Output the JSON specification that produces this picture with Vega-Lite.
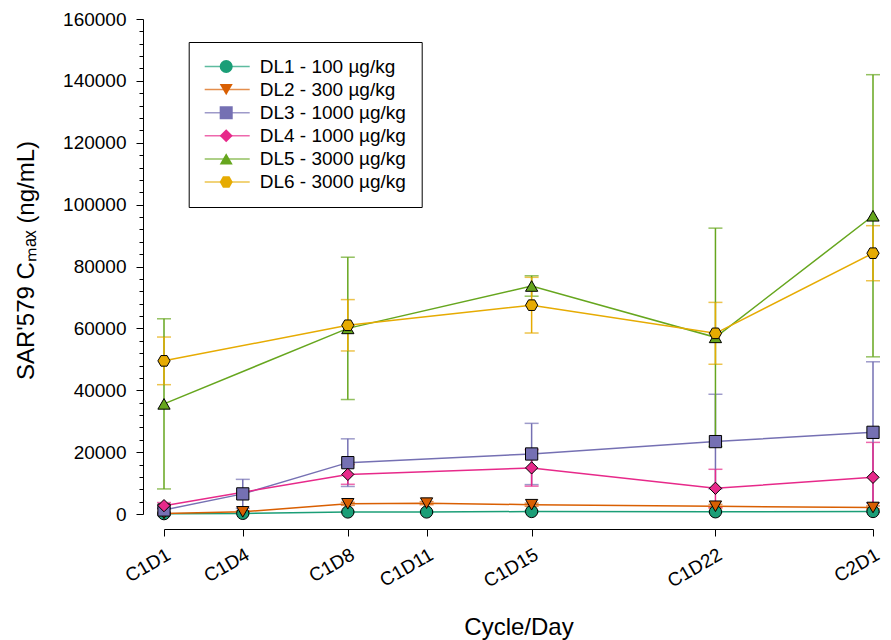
{
  "$schema": "https://vega.github.io/schema/vega-lite/v6.json",
  "width": 709,
  "height": 495,
  "autosize": {"type": "none"},
  "padding": {"left": 164, "top": 19, "right": 18, "bottom": 126},
  "background": "white",
  "config": {
    "view": {"stroke": null},
    "font": "Liberation Sans",
    "axis": {
      "grid": false,
      "domainColor": "black",
      "domainWidth": 1,
      "tickColor": "black",
      "tickWidth": 1,
      "labelColor": "black",
      "titleColor": "black",
      "labelFont": "Liberation Sans",
      "titleFont": "Liberation Sans",
      "titleFontWeight": "normal"
    }
  },
  "data": {
    "values": [
      {"g": "DL1 - 100 µg/kg", "d": 1, "m": 100, "e": 50},
      {"g": "DL1 - 100 µg/kg", "d": 4, "m": 200, "e": 100},
      {"g": "DL1 - 100 µg/kg", "d": 8, "m": 650, "e": 200},
      {"g": "DL1 - 100 µg/kg", "d": 11, "m": 650, "e": 200},
      {"g": "DL1 - 100 µg/kg", "d": 15, "m": 800, "e": 250},
      {"g": "DL1 - 100 µg/kg", "d": 22, "m": 700, "e": 200},
      {"g": "DL1 - 100 µg/kg", "d": 28, "m": 800, "e": 200},
      {"g": "DL2 - 300 µg/kg", "d": 1, "m": 200, "e": 100},
      {"g": "DL2 - 300 µg/kg", "d": 4, "m": 700, "e": 300},
      {"g": "DL2 - 300 µg/kg", "d": 8, "m": 3300, "e": 500},
      {"g": "DL2 - 300 µg/kg", "d": 11, "m": 3500, "e": 500},
      {"g": "DL2 - 300 µg/kg", "d": 15, "m": 3000, "e": 500},
      {"g": "DL2 - 300 µg/kg", "d": 22, "m": 2500, "e": 600},
      {"g": "DL2 - 300 µg/kg", "d": 28, "m": 2100, "e": 500},
      {"g": "DL3 - 1000 µg/kg", "d": 1, "m": 1300, "e": 800},
      {"g": "DL3 - 1000 µg/kg", "d": 4, "m": 6500, "e": 4700},
      {"g": "DL3 - 1000 µg/kg", "d": 8, "m": 16600, "e": 7700},
      {"g": "DL3 - 1000 µg/kg", "d": 15, "m": 19400, "e": 9900},
      {"g": "DL3 - 1000 µg/kg", "d": 22, "m": 23400, "e": 15300},
      {"g": "DL3 - 1000 µg/kg", "d": 28, "m": 26400, "e": 22800},
      {"g": "DL4 - 1000 µg/kg", "d": 1, "m": 2700, "e": 1000},
      {"g": "DL4 - 1000 µg/kg", "d": 8, "m": 12800, "e": 3200},
      {"g": "DL4 - 1000 µg/kg", "d": 15, "m": 14900, "e": 5900},
      {"g": "DL4 - 1000 µg/kg", "d": 22, "m": 8300, "e": 6150},
      {"g": "DL4 - 1000 µg/kg", "d": 28, "m": 11850, "e": 11300},
      {"g": "DL5 - 3000 µg/kg", "d": 1, "m": 35600, "e": 27500},
      {"g": "DL5 - 3000 µg/kg", "d": 8, "m": 60000, "e": 23000},
      {"g": "DL5 - 3000 µg/kg", "d": 15, "m": 73700, "e": 3300},
      {"g": "DL5 - 3000 µg/kg", "d": 22, "m": 57100, "e": 35300},
      {"g": "DL5 - 3000 µg/kg", "d": 28, "m": 96400, "e": 45600},
      {"g": "DL6 - 3000 µg/kg", "d": 1, "m": 49500, "e": 7700},
      {"g": "DL6 - 3000 µg/kg", "d": 8, "m": 61000, "e": 8300},
      {"g": "DL6 - 3000 µg/kg", "d": 15, "m": 67500, "e": 9000},
      {"g": "DL6 - 3000 µg/kg", "d": 22, "m": 58400, "e": 10000},
      {"g": "DL6 - 3000 µg/kg", "d": 28, "m": 84300, "e": 8900}
    ]
  },
  "encoding": {
    "x": {
      "field": "d",
      "type": "quantitative",
      "scale": {"domain": [1, 28], "nice": false, "zero": false},
      "axis": {
        "title": "Cycle/Day",
        "values": [1, 4, 8, 11, 15, 22, 28],
        "labelExpr": "datum.value == 1 ? 'C1D1' : datum.value == 4 ? 'C1D4' : datum.value == 8 ? 'C1D8' : datum.value == 11 ? 'C1D11' : datum.value == 15 ? 'C1D15' : datum.value == 22 ? 'C1D22' : 'C2D1'",
        "labelAngle": -30,
        "labelAlign": "right",
        "labelBaseline": "top",
        "labelOverlap": false,
        "labelFontSize": 19,
        "labelPadding": 9,
        "offset": 15,
        "tickSize": 7,
        "titleFontSize": 24,
        "titleY": 98,
        "titleBaseline": "middle"
      }
    },
    "y": {
      "field": "m",
      "type": "quantitative",
      "scale": {"domain": [0, 160000], "nice": false},
      "axis": {
        "title": "SAR'579 Cₘₐₓ (ng/mL)",
        "values": [0, 4000, 8000, 12000, 16000, 20000, 24000, 28000, 32000, 36000, 40000, 44000, 48000, 52000, 56000, 60000, 64000, 68000, 72000, 76000, 80000, 84000, 88000, 92000, 96000, 100000, 104000, 108000, 112000, 116000, 120000, 124000, 128000, 132000, 136000, 140000, 144000, 148000, 152000, 156000, 160000],
        "format": "d",
        "labelExpr": "datum.value % 20000 === 0 ? datum.label : ''",
        "tickSize": {"condition": {"test": "datum.value % 20000 === 0", "value": 7}, "value": 4},
        "labelPadding": 10,
        "labelFontSize": 19,
        "labelOverlap": false,
        "offset": 21,
        "titleFontSize": 24,
        "titleAngle": -90,
        "titleX": -117,
        "titleY": 241,
        "titleAlign": "center",
        "titleBaseline": "middle"
      }
    }
  },
  "layer": [
    {
      "mark": {"type": "errorbar", "ticks": {"size": 14, "thickness": 1.5}, "rule": {"strokeWidth": 1.5}},
      "encoding": {
        "yError": {"field": "e"},
        "color": {
          "field": "g",
          "type": "nominal",
          "scale": {
            "domain": ["DL1 - 100 µg/kg", "DL2 - 300 µg/kg", "DL3 - 1000 µg/kg", "DL4 - 1000 µg/kg", "DL5 - 3000 µg/kg", "DL6 - 3000 µg/kg"],
            "range": ["#1b9e77", "#d95f02", "#7570b3", "#e7298a", "#66a61e", "#e6ab02"]
          },
          "legend": {
            "orient": "none", "legendX": 24.7, "legendY": 23, "title": null,
            "symbolType": "stroke", "symbolSize": 2025, "symbolStrokeWidth": 1.5,
            "labelExpr": "''", "labelFontSize": 19, "labelFont": "Liberation Sans", "labelOffset": 11,
            "padding": 15, "clipHeight": 19, "rowPadding": 3.1, "zindex": 0
          }
        }
      }
    },
    {
      "mark": {"type": "line", "strokeWidth": 1.5},
      "encoding": {
        "color": {"field": "g", "type": "nominal"}
      }
    },
    {
      "mark": {"type": "point", "filled": true, "size": 150, "stroke": "black", "strokeWidth": 1, "opacity": 1},
      "encoding": {
        "fill": {
          "field": "g",
          "type": "nominal",
          "scale": {"range": ["#1b9e77", "#d95f02", "#7570b3", "#e7298a", "#66a61e", "#e6ab02"]},
          "legend": {
            "orient": "none", "legendX": 24.7, "legendY": 23, "title": null,
            "symbolSize": 170, "symbolStrokeColor": "black", "symbolStrokeWidth": 1, "symbolOffset": 13,
            "labelFontSize": 19, "labelFont": "Liberation Sans", "labelColor": "black", "labelOffset": 24,
            "padding": 15, "clipHeight": 19, "rowPadding": 3.1, "zindex": 1,
            "strokeColor": "black"
          }
        },
        "shape": {
          "field": "g",
          "type": "nominal",
          "scale": {"range": ["circle", "triangle-down", "square", "diamond", "triangle-up", "M-1,0L-0.5,-0.866L0.5,-0.866L1,0L0.5,0.866L-0.5,0.866Z"]},
          "legend": {
            "orient": "none", "legendX": 24.7, "legendY": 23, "title": null,
            "symbolSize": 170, "symbolStrokeColor": "black", "symbolStrokeWidth": 1, "symbolOffset": 13,
            "labelFontSize": 19, "labelFont": "Liberation Sans", "labelColor": "black", "labelOffset": 24,
            "padding": 15, "clipHeight": 19, "rowPadding": 3.1, "zindex": 1,
            "strokeColor": "black"
          }
        }
      }
    }
  ]
}
